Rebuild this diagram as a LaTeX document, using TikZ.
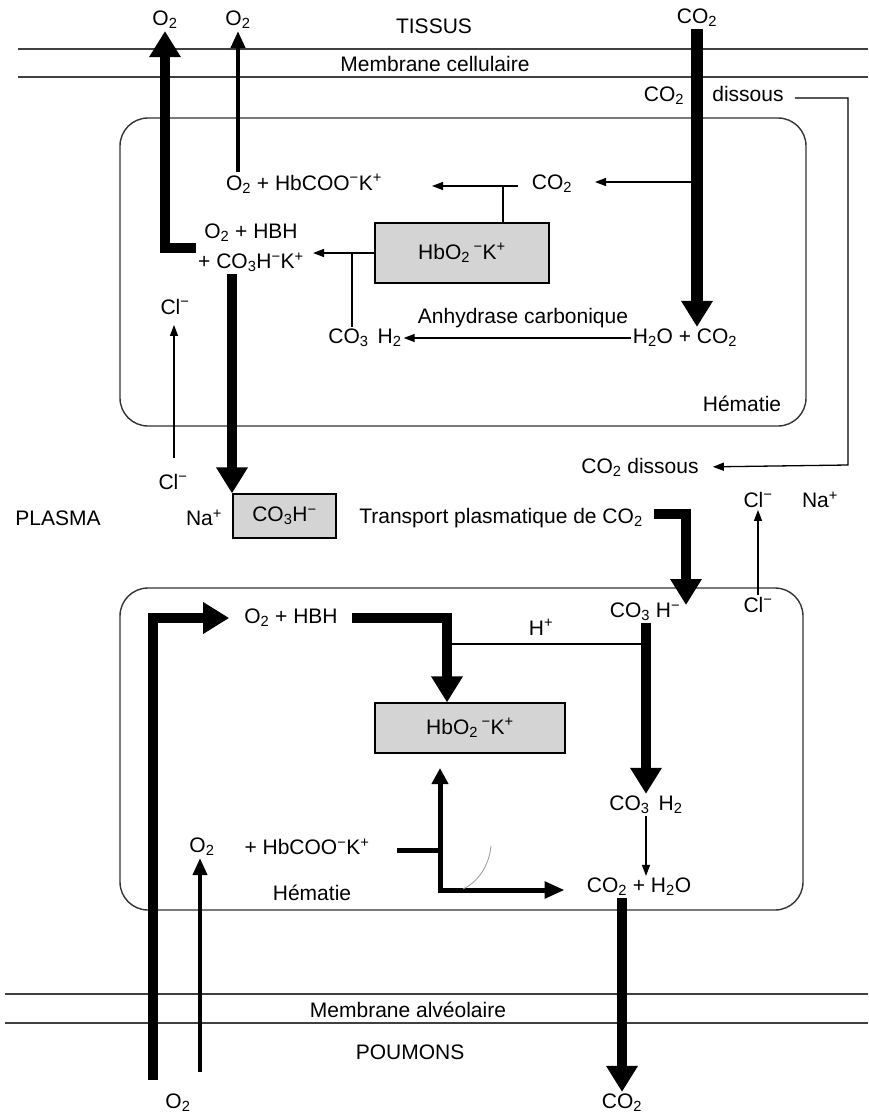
\documentclass[tikz,border=0pt]{standalone}
\usepackage{fontspec}
\setmainfont{Liberation Sans}
\usetikzlibrary{arrows.meta}
\newcommand{\chsub}[1]{\textsubscript{#1}}
\newcommand{\chsup}[1]{\textsuperscript{#1}}
\tikzset{
  lab/.style={font=\fontsize{21}{25}\selectfont, inner sep=2pt},
  thk/.style={line width=10pt, -{Triangle[length=26pt,width=30pt]}},
  med/.style={line width=4pt, -{Triangle[length=17pt,width=14pt]}},
  medb/.style={line width=5pt},
  thn/.style={line width=1.3pt, -{Triangle[length=11pt,width=8pt]}},
  thnl/.style={line width=1.3pt},
  hbox/.style={draw, line width=1.2pt, fill=black!17, inner sep=0pt},
  cellr/.style={draw=black!80, line width=1.4pt, rounded corners=28pt},
  memb/.style={draw=black!75, line width=1.2pt},
}
\begin{document}
\begin{tikzpicture}[x=1pt, y=-1pt]
  \useasboundingbox (0,0) rectangle (868,1119);
  \draw[memb] (18,49) -- (868,49);
  \draw[memb] (18,77) -- (868,77);
  \draw[memb] (5,994) -- (868,994);
  \draw[memb] (5,1023) -- (868,1023);
  \draw[cellr] (120,118) rectangle (806,426);
  \draw[cellr] (120,588) rectangle (803,910);

  \node[lab] (o2a) at (165,20) {O\chsub{2}};
  \node[lab] (o2b) at (238,20) {O\chsub{2}};
  \node[lab] (tissus) at (434,26) {TISSUS};
  \node[lab] (co2t) at (697,18) {CO\chsub{2}};
  \node[lab] (mcell) at (435,64) {Membrane cellulaire};
  \node[lab] (co2u) at (664,96) {CO\chsub{2}};
  \node[lab] (diss) at (748,94) {dissous};

  \node[lab] (hbco) at (304,184) {O\chsub{2} + HbCOO\chsup{−}K\chsup{+}};
  \node[lab] (co2c) at (552,184) {CO\chsub{2}};
  \node[hbox, lab, minimum width=174pt, minimum height=60pt] (box1) at (462,253) {HbO\chsub{2}\,\chsup{−}K\chsup{+}};
  \node[lab, align=center, font=\fontsize{21}{30}\selectfont] (hbh1) at (251,248) {O\chsub{2} + HBH\\+ CO\chsub{3}H\chsup{−}K\chsup{+}};
  \node[lab] (cl1) at (175,307) {Cl\chsup{−}};
  \node[lab] (anh) at (523,318) {Anhydrase carbonique};
  \node[lab] (co3h2a) at (365,338) {CO\chsub{3}\hspace{9pt}H\chsub{2}};
  \node[lab] (h2oco2) at (685,338) {H\chsub{2}O + CO\chsub{2}};
  \node[lab] (hem1) at (742,404) {Hématie};
  \node[lab] (co2d) at (640,467) {CO\chsub{2} dissous};
  \node[lab] (cl2) at (173,482) {Cl\chsup{−}};

  \node[lab] (plasma) at (58,518) {PLASMA};
  \node[lab] (na1) at (204,518) {Na\chsup{+}};
  \node[hbox, lab, minimum width=103pt, minimum height=44pt] (box2) at (284.5,516) {CO\chsub{3}H\chsup{−}};
  \node[lab] (trans) at (501,518) {Transport plasmatique de CO\chsub{2}};
  \node[lab] (cl3) at (758,500) {Cl\chsup{−}};
  \node[lab] (na2) at (820,500) {Na\chsup{+}};

  \node[lab] (hbh2) at (291,618) {O\chsub{2} + HBH};
  \node[lab] (hplus) at (541,627) {H\chsup{+}};
  \node[lab] (co3h) at (645,612) {CO\chsub{3} H\chsup{−}};
  \node[lab] (cl4) at (758,605) {Cl\chsup{−}};
  \node[hbox, lab, minimum width=190pt, minimum height=50pt] (box3) at (470,728) {HbO\chsub{2}\,\chsup{−}K\chsup{+}};
  \node[lab] (co3h2b) at (646,805) {CO\chsub{3}\hspace{9pt}H\chsub{2}};
  \node[lab] (o2c) at (202,847) {O\chsub{2}};
  \node[lab] (hbco2) at (307,847) {+ HbCOO\chsup{−}K\chsup{+}};
  \node[lab] (hem2) at (312,893) {Hématie};
  \node[lab] (co2h2o) at (639,887) {CO\chsub{2} + H\chsub{2}O};

  \node[lab] (malv) at (408,1010) {Membrane alvéolaire};
  \node[lab] (poum) at (410,1052) {POUMONS};
  \node[lab] (o2d) at (178,1103) {O\chsub{2}};
  \node[lab] (co2b) at (622,1103) {CO\chsub{2}};

  \coordinate (rtop) at (848,98);
  \coordinate (rbot) at (848,465);
  \coordinate (c1s) at (518,186);
  \coordinate (c1e) at (432,186);
  \coordinate (c2e) at (595,182);
  \coordinate (j1) at (503,186);
  \coordinate (b1e) at (313,253);
  \coordinate (j2) at (352,253);
  \coordinate (dn) at (232,274);
  \coordinate (clb) at (174,458);
  \coordinate (el) at (686,514);
  \coordinate (eltip) at (686,605);
  \coordinate (o2in) at (153,1080);
  \coordinate (hl) at (447,644);
  \coordinate (m0) at (397,850);
  \coordinate (m1) at (440,850);
  \coordinate (m2) at (440,890);
  \coordinate (m3) at (440,768);
  \coordinate (o2out) at (200,1072);

  \draw[thk, line width=12pt] (co2t.south) -- (co2t.south |- h2oco2.north);
  \draw[thn] (co2t.south |- c2e) -- (c2e);
  \draw[thn] (c1s) -- (c1e);
  \draw[thnl] (box1.north -| j1) -- (j1);
  \draw[thn] (box1.west) -- (b1e);
  \draw[thnl] (j2) -- (j2 |- co3h2a.north);
  \draw[thn] (h2oco2.west) -- (co3h2a.east);
  \draw[thn, shorten >=8pt] (clb) -- (clb |- cl1.south);
  \draw[med] (o2b |- hbco.north) -- (o2b.south);
  \draw[thk] (hbh1.west) -| (o2a.south);
  \draw[thk] (dn) -- (dn |- box2.north);
  \draw[thn, shorten <=9pt, shorten >=12pt] (diss.east |- rtop) -- (rtop) -- (rbot) -- (co2d.east);

  \draw[thk, shorten <=9pt] (trans.east |- el) -- (el) -- (eltip);
  \draw[thn] (cl4.north) -- (cl3.south);

  \draw[thk, shorten >=13pt] (o2in) |- (hbh2.west);
  \draw[thk, shorten <=12pt] (hbh2.east) -| ([xshift=-23pt]box3.north);
  \draw[thnl] (hl) -- (hl -| co3h2b);
  \draw[thk] (co3h.south -| co3h2b) -- (co3h2b.north);
  \draw[thn] (co3h2b.south) -- (co3h2b.south |- co2h2o.north);
  \draw[medb] (m0) -- (m1);
  \draw[medb, {Triangle[length=16pt,width=16pt]}-{Triangle[length=20pt,width=16pt]}, shorten >=20pt] (m3) -- (m2) -- (m2 -| co2h2o.west);
  \draw[black!40, line width=0.8pt] (463,889) .. controls (478,882) and (489,866) .. (491,846);
  \draw[med] (o2out) -- (o2out |- o2c.south);
  \draw[thk] (co2h2o.south -| co2b) -- (co2b.north);
\end{tikzpicture}
\end{document}
